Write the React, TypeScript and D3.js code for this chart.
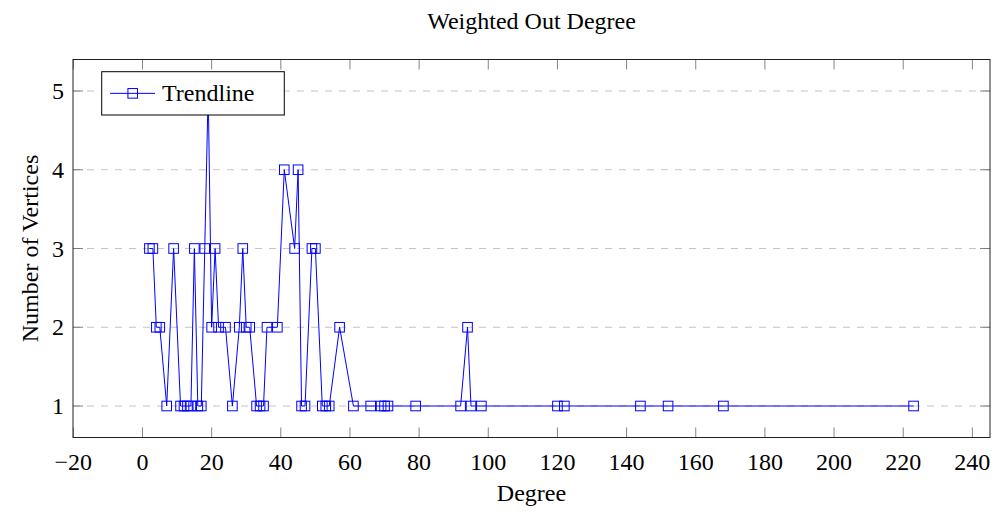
import * as d3 from "d3";

const degrees = [
  2, 3, 4, 5, 7, 9, 11, 12, 13, 14, 15, 16, 17, 18, 19, 20, 21, 22, 24, 26, 28,
  29, 30, 31, 33, 34, 35, 36, 39, 41, 44, 45, 46, 47, 49, 50, 52, 53, 54, 57,
  61, 66, 69, 70, 71, 79, 92, 94, 95, 98, 120, 122, 144, 152, 168, 223,
];
const vertexCounts = [
  3, 3, 2, 2, 1, 3, 1, 1, 1, 1, 3, 1, 1, 3, 5, 2, 3, 2, 2, 1, 2, 3, 2, 2, 1, 1,
  1, 2, 2, 4, 3, 4, 1, 1, 3, 3, 1, 1, 1, 2, 1, 1, 1, 1, 1, 1, 1, 2, 1, 1, 1, 1,
  1, 1, 1, 1,
];
const xTicks = [-20, 0, 20, 40, 60, 80, 100, 120, 140, 160, 180, 200, 220, 240];
const yTicks = [1, 2, 3, 4, 5];

const title = "Weighted Out Degree";
const xLabel = "Degree";
const yLabel = "Number of Vertices";
const seriesName = "Trendline";

const width = 1002;
const height = 512;
const left = 73;
const right = 990;
const top = 59.5;
const bottom = 437.5;
const font = "'Liberation Serif', 'Times New Roman', serif";
const blue = "#0000ff";

const App = () => {
  const x = d3.scaleLinear().domain([-20.1, 245.1]).range([left, right]);
  const y = d3.scaleLinear().domain([0.6, 5.4]).range([bottom, top]);

  const points = degrees.map((d, i) => [d, vertexCounts[i]] as [number, number]);
  const line = d3
    .line<[number, number]>()
    .x((d) => x(d[0]))
    .y((d) => y(d[1]));

  const m = 4.8; // marker half size
  const tick = 10;

  // legend
  const lx = left + 28.7;
  const ly = top + 12.2;
  const lw = 182.6;
  const lh = 43.3;

  return (
    <svg
      width={width}
      height={height}
      style={{ position: "absolute", left: 0, top: 0, background: "#fff" }}
      fontFamily={font}
    >
      <rect width={width} height={height} fill="#fff" />

      {/* Grid */}
      {yTicks.map((t) => (
        <line
          key={"g" + t}
          x1={left}
          x2={right}
          y1={y(t)}
          y2={y(t)}
          stroke="#c4c4c4"
          strokeWidth={1}
          strokeDasharray="7 7"
        />
      ))}

      {/* Ticks */}
      {xTicks.map((t) => (
        <g key={"xt" + t} stroke="#666" strokeWidth={0.8}>
          <line x1={x(t)} x2={x(t)} y1={bottom} y2={bottom - tick} />
          <line x1={x(t)} x2={x(t)} y1={top} y2={top + tick} />
        </g>
      ))}
      {yTicks.map((t) => (
        <g key={"yt" + t} stroke="#666" strokeWidth={0.8}>
          <line x1={left} x2={left + tick} y1={y(t)} y2={y(t)} />
          <line x1={right} x2={right - tick} y1={y(t)} y2={y(t)} />
        </g>
      ))}

      {/* Series */}
      <path d={line(points) ?? ""} fill="none" stroke={blue} strokeWidth={1} />
      {points.map((p, i) => (
        <rect
          key={"m" + i}
          x={x(p[0]) - m}
          y={y(p[1]) - m}
          width={2 * m}
          height={2 * m}
          fill="none"
          stroke={blue}
          strokeWidth={1}
        />
      ))}

      {/* Axis box */}
      <rect
        x={left}
        y={top}
        width={right - left}
        height={bottom - top}
        fill="none"
        stroke="#222"
        strokeWidth={1}
      />

      {/* Tick labels */}
      {xTicks.map((t) => (
        <text
          key={"xl" + t}
          x={x(t)}
          y={469.5}
          textAnchor="middle"
          fontSize={24}
          fill="#000"
        >
          {t < 0 ? "\u2212" + Math.abs(t) : t}
        </text>
      ))}
      {yTicks.map((t) => (
        <text
          key={"yl" + t}
          x={64}
          y={y(t) + 8}
          textAnchor="end"
          fontSize={24}
          fill="#000"
        >
          {t}
        </text>
      ))}

      {/* Titles */}
      <text x={(left + right) / 2} y={29} textAnchor="middle" fontSize={24}>
        {title}
      </text>
      <text x={(left + right) / 2} y={500.5} textAnchor="middle" fontSize={24}>
        {xLabel}
      </text>
      <text
        transform={`translate(38, ${(top + bottom) / 2}) rotate(-90)`}
        textAnchor="middle"
        fontSize={24}
      >
        {yLabel}
      </text>

      {/* Legend */}
      <g>
        <rect x={lx} y={ly} width={lw} height={lh} fill="#fff" stroke="#000" strokeWidth={1} />
        <line x1={lx + 8.3} x2={lx + 53.3} y1={ly + lh / 2} y2={ly + lh / 2} stroke={blue} strokeWidth={1} />
        <rect
          x={lx + 31 - m}
          y={ly + lh / 2 - m}
          width={2 * m}
          height={2 * m}
          fill="none"
          stroke={blue}
          strokeWidth={1}
        />
        <text x={lx + 60.3} y={ly + lh / 2 + 8} fontSize={24}>
          {seriesName}
        </text>
      </g>
    </svg>
  );
};

export default App;
